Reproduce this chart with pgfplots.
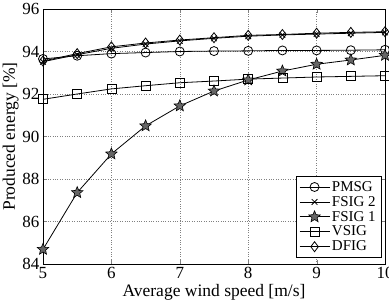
\documentclass[border=0pt]{standalone}
\usepackage{pgfplots}
\pgfplotsset{compat=1.18}
\usepackage{fontspec}
\setmainfont{Liberation Serif}
\usetikzlibrary{calc}
\pgfdeclareplotmark{fstar}{%
 \pgfpathmoveto{\pgfpointpolar{90}{\pgfplotmarksize}}%
 \pgfpathlineto{\pgfpointpolar{126}{0.45\pgfplotmarksize}}%
 \pgfpathlineto{\pgfpointpolar{162}{\pgfplotmarksize}}%
 \pgfpathlineto{\pgfpointpolar{198}{0.45\pgfplotmarksize}}%
 \pgfpathlineto{\pgfpointpolar{234}{\pgfplotmarksize}}%
 \pgfpathlineto{\pgfpointpolar{270}{0.45\pgfplotmarksize}}%
 \pgfpathlineto{\pgfpointpolar{306}{\pgfplotmarksize}}%
 \pgfpathlineto{\pgfpointpolar{342}{0.45\pgfplotmarksize}}%
 \pgfpathlineto{\pgfpointpolar{18}{\pgfplotmarksize}}%
 \pgfpathlineto{\pgfpointpolar{54}{0.45\pgfplotmarksize}}%
 \pgfpathclose\pgfusepathqfillstroke}
\begin{document}
\begin{tikzpicture}
\begin{axis}[
  scale only axis, width=342pt, height=255pt,
  xmin=5, xmax=10, ymin=84, ymax=96,
  xtick={5,6,7,8,9,10}, ytick={84,86,88,90,92,94,96},
  tick align=inside, tick pos=both,
  grid=major, major grid style={dotted, black!50},
  ticklabel style={font=\fontsize{17}{19}\selectfont},
  /pgf/number format/assume math mode=true,
  xlabel={Average wind speed [m/s]},
  ylabel={Produced energy [\%]},
  label style={font=\fontsize{17.5}{19}\selectfont},
  xlabel style={yshift=1.5pt},
  ylabel style={yshift=-3pt},
  legend style={at={(0.988,0.025)}, anchor=south east, draw=black,
    font=\fontsize{15}{17}\selectfont, row sep=-0.5pt, inner sep=3pt},
  legend cell align=left,
  legend image code/.code={\draw[mark repeat=2,mark phase=2] plot coordinates {(0pt,0pt) (15pt,0pt) (30pt,0pt)};},
  every axis plot/.append style={black, line width=0.8pt, mark options={solid}},
  clip=false,
]
\addplot[mark=o, mark size=4.5pt] coordinates {
(5,93.65) (5.5,93.8) (6,93.9) (6.5,93.95) (7,94.0) (7.5,94.02) (8,94.03) (8.5,94.05) (9,94.05) (9.5,94.06) (10,94.08)};
\addlegendentry{PMSG}
\addplot[mark=x, mark size=4pt] coordinates {
(5,93.52) (5.5,93.85) (6,94.15) (6.5,94.35) (7,94.5) (7.5,94.62) (8,94.72) (8.5,94.78) (9,94.82) (9.5,94.86) (10,94.9)};
\addlegendentry{FSIG 2}
\addplot[mark=fstar, mark size=6pt, mark options={fill=black!60, line width=0.6pt}] coordinates {
(5,84.69) (5.5,87.36) (6,89.18) (6.5,90.5) (7,91.44) (7.5,92.14) (8,92.66) (8.5,93.08) (9,93.4) (9.5,93.6) (10,93.82)};
\addlegendentry{FSIG 1}
\addplot[mark=square, mark size=4.5pt] coordinates {
(5,91.75) (5.5,92.0) (6,92.24) (6.5,92.39) (7,92.53) (7.5,92.61) (8,92.7) (8.5,92.75) (9,92.8) (9.5,92.83) (10,92.86)};
\addlegendentry{VSIG}
\addplot[mark=diamond, mark size=5pt] coordinates {
(5,93.55) (5.5,93.9) (6,94.22) (6.5,94.4) (7,94.54) (7.5,94.65) (8,94.76) (8.5,94.8) (9,94.86) (9.5,94.9) (10,94.93)};
\addlegendentry{DFIG}
\coordinate (sw) at (rel axis cs:0,0);
\coordinate (ne) at (rel axis cs:1,1);
\end{axis}
\pgfresetboundingbox
\useasboundingbox ($(sw)+(-43pt,-43pt)$) rectangle ($(ne)+(4pt,9pt)$);
\end{tikzpicture}
\end{document}
